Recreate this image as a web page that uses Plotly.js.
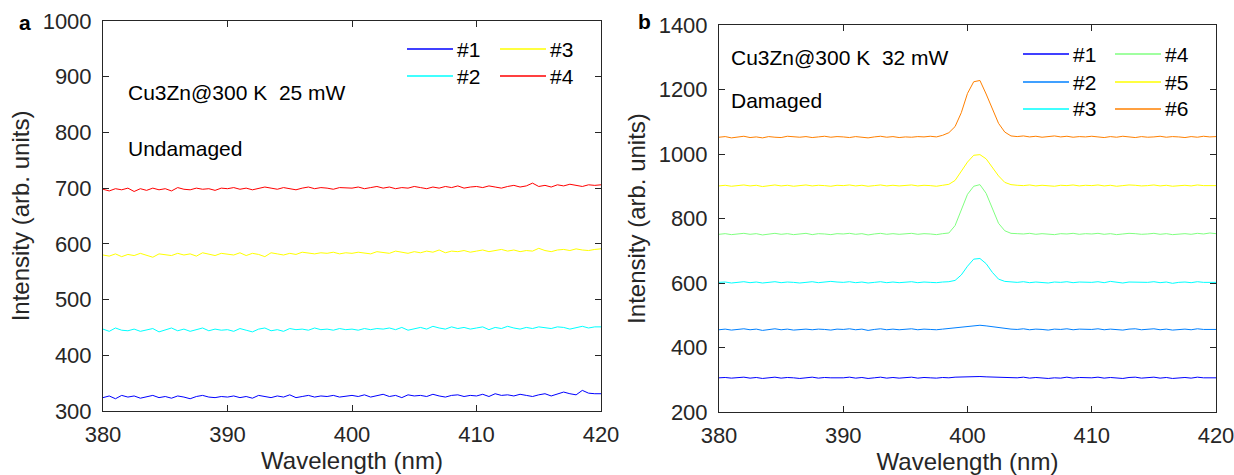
<!DOCTYPE html>
<html>
<head>
<meta charset="utf-8">
<script src="https://cdn.plot.ly/plotly-3.0.1.min.js"></script>
<style>html,body{margin:0;padding:0;background:#fff;}#chart{width:1234px;height:475px;}</style>
</head>
<body>
<div id="chart"></div>
<script>
// Wavelength grid (nm)
const wavelength = [380,380.5,381,381.5,382,382.5,383,383.5,384,384.5,385,385.5,386,386.5,387,387.5,388,388.5,389,389.5,
390,390.5,391,391.5,392,392.5,393,393.5,394,394.5,395,395.5,396,396.5,397,397.5,398,398.5,399,399.5,
400,400.5,401,401.5,402,402.5,403,403.5,404,404.5,405,405.5,406,406.5,407,407.5,408,408.5,409,409.5,
410,410.5,411,411.5,412,412.5,413,413.5,414,414.5,415,415.5,416,416.5,417,417.5,418,418.5,419,419.5,420];

// Panel a: undamaged, 25 mW
const labelsA = ["#1","#2","#3","#4"];
const colorsA = ["#0000ff","#00ffff","#ffff00","#ff0000"];
const a1 = [324,327,322,328,325,327,323,326,328,324,326,323,327,325,322,326,328,325,324,326,
325,327,324,326,323,328,326,324,327,325,329,324,326,328,325,327,326,328,325,327,
328,326,329,325,327,330,326,328,324,329,327,328,326,330,327,325,328,329,326,328,
327,330,326,331,328,329,327,330,328,326,329,331,327,330,334,331,329,337,332,331,331];
const a2 = [447,443,449,445,444,447,443,446,448,442,446,449,444,447,443,446,449,444,447,445,
446,443,448,445,442,447,449,444,446,443,448,446,447,445,449,446,447,445,448,446,
447,445,448,446,448,447,449,446,450,445,448,450,447,452,449,447,451,448,450,447,
449,451,446,450,448,452,449,447,450,448,451,449,448,451,450,447,449,452,449,451,451];
const a3 = [580,578,582,577,581,579,583,580,576,582,581,579,583,580,582,578,584,581,579,583,
582,580,584,579,583,581,577,584,582,580,583,581,585,583,582,584,583,585,582,584,
583,585,584,582,586,584,583,587,585,583,586,584,587,585,589,584,587,586,588,585,
587,589,586,588,590,587,589,586,588,587,592,588,586,589,590,588,591,589,588,590,591];
const a4 = [698,695,699,697,700,694,699,696,700,697,699,695,701,698,697,700,698,699,696,700,
699,701,698,700,697,699,702,700,698,701,699,697,700,702,699,701,700,698,701,700,
700,702,699,701,703,700,702,699,701,700,703,701,699,702,700,703,701,704,700,702,
703,701,704,702,700,703,705,702,704,709,703,705,702,706,704,707,705,703,706,705,706];

// Panel b: damaged, 32 mW
const labelsB = ["#1","#2","#3","#4","#5","#6"];
const colorsB = ["#0000ff","#0080ff","#00ffff","#80ff80","#ffff00","#ff8000"];
const b1 = [306,307,305,306,308,305,307,304,306,308,305,307,306,304,306,308,305,307,306,305,
306,308,305,307,304,306,308,305,307,305,306,308,305,307,306,305,307,306,308,309,
309,310,310,309,308,307,306,305,306,308,305,307,306,304,306,305,308,305,307,306,
306,308,305,307,306,304,307,308,305,306,308,305,307,304,306,307,305,308,306,307,306];
const b2 = [455,457,454,456,458,455,457,453,456,458,455,457,454,456,457,455,457,456,454,457,
456,458,455,457,453,456,458,455,457,455,456,458,455,457,456,455,457,459,460,462,
465,468,469,467,464,461,458,457,456,458,455,457,456,454,457,456,458,455,457,456,
456,458,455,457,456,454,457,458,455,456,458,455,457,454,456,457,455,458,456,457,456];
const b3 = [602,603,600,602,604,601,603,600,602,604,601,603,602,600,602,604,601,603,605,603,
602,604,601,603,600,602,604,601,603,601,602,604,601,603,602,601,603,604,608,625,
652,674,676,660,633,612,605,603,602,604,601,603,602,600,603,602,604,601,603,602,
602,604,601,605,602,600,603,602,601,602,604,601,603,599,602,603,601,604,602,603,602];
const b4 = [751,753,750,752,754,751,753,749,752,754,751,753,750,752,754,750,753,752,750,753,
752,754,751,753,749,752,754,751,753,751,752,754,751,753,752,750,753,755,778,825,
875,900,905,878,830,785,762,754,753,752,754,751,753,752,750,753,752,754,751,753,
752,754,751,753,750,752,754,753,751,752,754,751,753,750,752,753,751,754,752,755,753];
const b5 = [901,903,900,902,904,901,903,899,902,904,901,903,900,902,904,901,903,902,900,903,
902,904,901,903,900,902,904,901,903,901,902,904,901,903,902,900,903,906,918,945,
975,996,998,985,958,932,912,905,903,902,904,901,903,902,900,903,902,904,901,903,
902,904,901,903,900,902,904,903,901,902,904,901,903,900,902,903,901,904,902,901,902];
const b6 = [1052,1054,1050,1053,1055,1051,1053,1050,1054,1052,1051,1055,1053,1052,1054,1051,1053,1055,1052,1054,
1053,1051,1054,1052,1050,1053,1055,1052,1054,1051,1053,1052,1054,1053,1055,1053,1058,1066,1085,1128,
1188,1224,1228,1186,1142,1095,1068,1056,1054,1056,1053,1055,1052,1054,1056,1053,1055,1052,1054,1053,
1055,1053,1051,1054,1052,1055,1053,1051,1054,1052,1053,1055,1052,1054,1053,1051,1054,1052,1055,1053,1054];

const xTicks = [380,390,400,410,420];
const yTicksA = [300,400,500,600,700,800,900,1000];
const yTicksB = [200,400,600,800,1000,1200,1400];

const seriesA = [a1,a2,a3,a4];
const seriesB = [b1,b2,b3,b4,b5,b6];

const W = 1234, H = 475;
const px = v => v / W;
const py = v => 1 - v / H;

const FONT = "Liberation Sans, Arial, sans-serif";
const TXT = "#262626";

const traces = [];
seriesA.forEach((s,i) => traces.push({x: wavelength, y: s, type:"scatter", mode:"lines", name: labelsA[i],
  line:{color: colorsA[i], width:1}, xaxis:"x", yaxis:"y", showlegend:false}));
seriesB.forEach((s,i) => traces.push({x: wavelength, y: s, type:"scatter", mode:"lines", name: labelsB[i],
  line:{color: colorsB[i], width:1}, xaxis:"x2", yaxis:"y2", showlegend:false}));

function axis(extra) {
  return Object.assign({
    showgrid:false, zeroline:false, showline:true, linecolor:"#262626", linewidth:1,
    mirror:"ticks", ticks:"inside", ticklen:6, tickcolor:"#262626", tickwidth:1,
    tickfont:{family:FONT, size:22, color:TXT}, fixedrange:true, ticklabeloverflow:"allow"
  }, extra);
}

const shapes = [];
const annotations = [];

// custom legends (two columns each)
function legend(labels, colors, lineX, rowY, rowsPerCol) {
  labels.forEach((lab, i) => {
    const col = Math.floor(i / rowsPerCol), row = i % rowsPerCol;
    const x0 = lineX[col], y = rowY[row];
    shapes.push({type:"line", xref:"paper", yref:"paper", x0:px(x0), x1:px(x0+46), y0:py(y), y1:py(y),
      line:{color: colors[i], width:1.5}});
    annotations.push({xref:"paper", yref:"paper", x:px(x0+48), y:py(y), xanchor:"left", yanchor:"middle",
      text: lab, showarrow:false, font:{family:FONT, size:21, color:"#000"}});
  });
}
legend(labelsA, colorsA, [407,500], [49,76], 2);
legend(labelsB, colorsB, [1023,1115], [54,82,109], 3);

function note(text, x, y, size, bold) {
  annotations.push({xref:"paper", yref:"paper", x:px(x), y:py(y), xanchor:"left", yanchor:"middle",
    text: bold ? "<b>"+text+"</b>" : text, showarrow:false, font:{family:FONT, size:size, color:"#000"}});
}
note("Cu3Zn@300 K\u00a0 25 mW", 126, 92, 21);
note("Undamaged", 126, 148, 21);
note("Cu3Zn@300 K\u00a0 32 mW", 729, 57, 21);
note("Damaged", 729, 100, 21);
note("a", 17, 23, 21, true);
note("b", 636, 22, 21, true);

const layout = {
  width: W, height: H,
  margin:{l:0, r:0, t:0, b:0},
  paper_bgcolor:"#fff", plot_bgcolor:"#fff",
  showlegend:false,
  font:{family:FONT, color:TXT},
  xaxis: axis({domain:[px(103), px(601)], range:[380,420], tickvals:xTicks, anchor:"y",
    title:{text:"Wavelength (nm)", font:{family:FONT, size:24, color:TXT}, standoff:4}, ticklabelstandoff:4}),
  yaxis: axis({domain:[py(411), py(21)], range:[300,1000], tickvals:yTicksA, anchor:"x",
    title:{text:"Intensity (arb. units)", font:{family:FONT, size:24, color:TXT}, standoff:6}, ticklabelstandoff:6}),
  xaxis2: axis({domain:[px(719), px(1216)], range:[380,420], tickvals:xTicks, anchor:"y2",
    title:{text:"Wavelength (nm)", font:{family:FONT, size:24, color:TXT}, standoff:4}, ticklabelstandoff:4}),
  yaxis2: axis({domain:[py(412), py(25)], range:[200,1400], tickvals:yTicksB, anchor:"x2",
    title:{text:"Intensity (arb. units)", font:{family:FONT, size:24, color:TXT}, standoff:6}, ticklabelstandoff:6}),
  shapes: shapes,
  annotations: annotations
};

Plotly.newPlot("chart", traces, layout, {displayModeBar:false, staticPlot:true});
</script>
</body>
</html>
